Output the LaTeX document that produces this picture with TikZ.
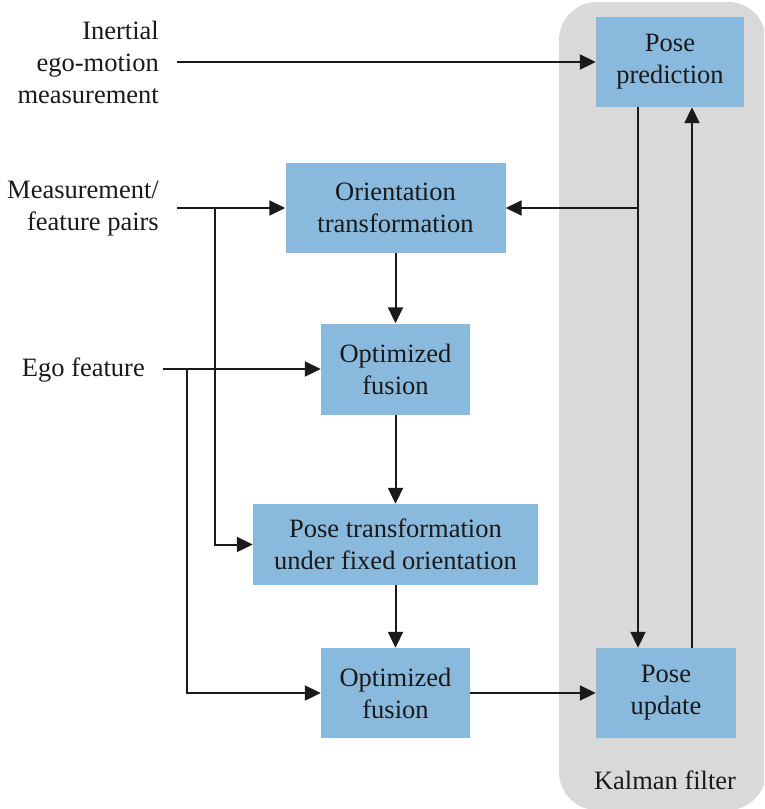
\documentclass[tikz,border=0pt]{standalone}
\usepackage{fontspec}
\setmainfont{Liberation Serif}
\usetikzlibrary{arrows.meta}
\definecolor{boxblue}{RGB}{138,185,222}
\definecolor{kfgray}{RGB}{217,217,217}
\definecolor{ink}{RGB}{26,26,26}
\tikzset{
  every node/.style={font=\fontsize{26.5}{32}\selectfont, text=ink},
  blockbox/.style={fill=boxblue, draw=none, inner sep=0pt, align=center},
  inlabel/.style={anchor=east, align=right, inner sep=0pt},
  arr/.style={draw=ink, line width=2pt, -{Triangle[length=16pt,width=15pt]}},
  wire/.style={draw=ink, line width=2pt}
}
\begin{document}
\begin{tikzpicture}[x=1pt, y=-1pt]
\useasboundingbox (0,0) rectangle (764,809);

% Kalman filter region
\begin{scope}
  \clip (0,0) rectangle (764,809);
  \fill[kfgray, rounded corners=38pt] (559,2) rectangle (766,810);
\end{scope}
\node (kf) at (665,780) {Kalman filter};

% processing blocks
\node[blockbox, minimum width=148pt, minimum height=90pt] (pp) at (670,62) {Pose\\prediction};
\node[blockbox, minimum width=220pt, minimum height=90pt] (ot) at (395.5,208) {Orientation\\transformation};
\node[blockbox, minimum width=149pt, minimum height=91pt] (of1) at (395.5,369) {Optimized\\fusion};
\node[blockbox, minimum width=285pt, minimum height=81pt] (pt) at (395.5,544.5) {Pose transformation\\under fixed orientation};
\node[blockbox, minimum width=149pt, minimum height=90pt] (of2) at (395.5,693) {Optimized\\fusion};
\node[blockbox, minimum width=140pt, minimum height=90pt] (pu) at (666,693) {Pose\\update};

% input labels
\node[inlabel] (l1) at (159,62) {Inertial\\ego-motion\\measurement};
\node[inlabel] (l2) at (159,209) {Measurement/\\feature pairs};
\node[inlabel] (l3) at (145,370) {Ego feature};

% line start points and branch points
\coordinate (in1) at (177,62);
\coordinate (in2) at (177,208);
\coordinate (b2) at (215,208);
\coordinate (in3) at (163,369);
\coordinate (b3) at (187,369);
\coordinate (kx1) at (638,0);
\coordinate (kx2) at (692,0);

% inputs
\draw[arr] (in1) -- (pp.west);
\draw[arr] (in2) -- (ot.west);
\draw[arr] (b2) |- (pt.west);
\draw[arr] (in3) -- (of1.west);
\draw[arr] (b3) |- (of2.west);

% main chain
\draw[arr] (ot.south) -- (of1.north);
\draw[arr] (of1.south) -- (pt.north);
\draw[arr] (pt.south) -- (of2.north);
\draw[arr] (of2.east) -- (pu.west);

% filter loop
\draw[arr] (pp.south -| kx1) -- (pu.north -| kx1);
\draw[arr] (kx1 |- ot.east) -- (ot.east);
\draw[arr] (pu.north -| kx2) -- (pp.south -| kx2);
\end{tikzpicture}
\end{document}
